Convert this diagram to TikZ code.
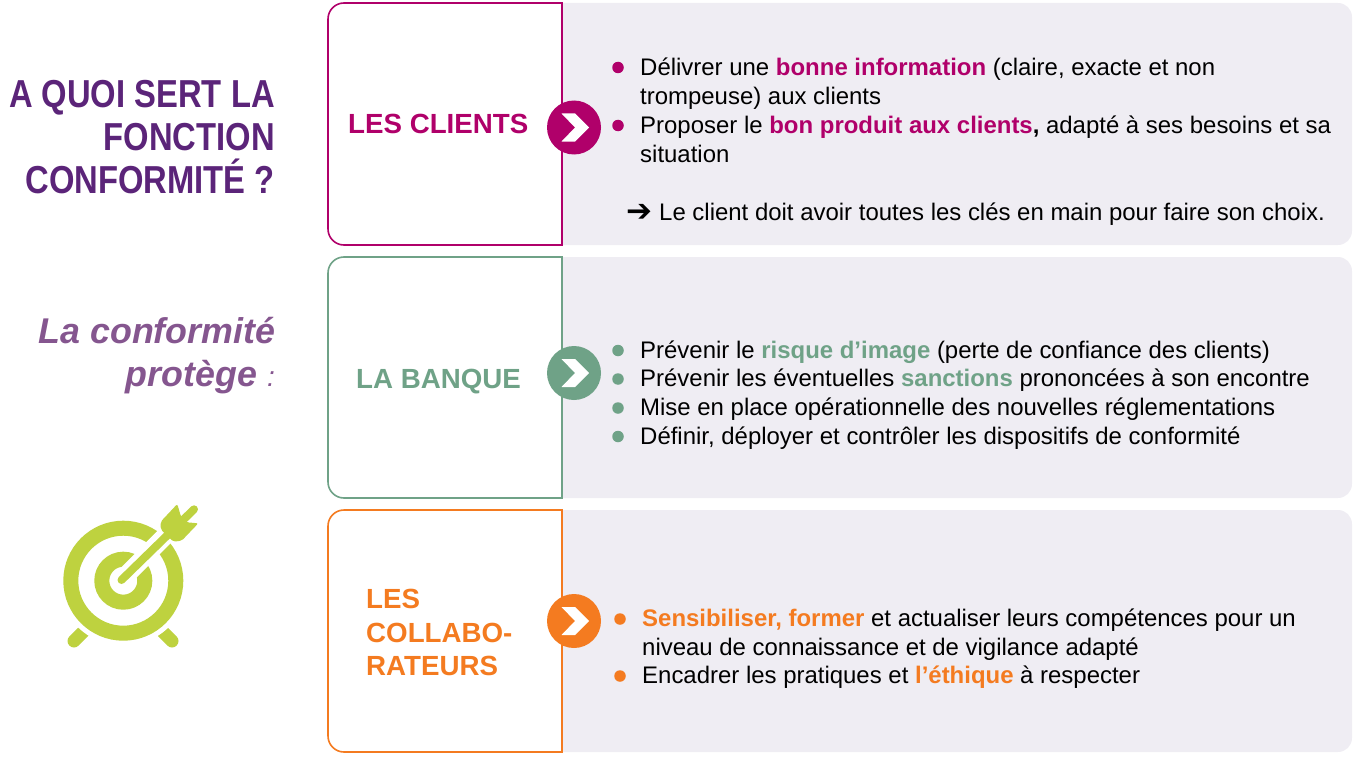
\documentclass[tikz,border=0pt]{standalone}
\usepackage{fontspec}
\setmainfont{Liberation Sans}
\newfontfamily\arrowfont{DejaVu Sans}
\newfontfamily\narrowfont[FakeStretch=0.84]{Liberation Sans}
\usetikzlibrary{positioning}
\definecolor{clientcol}{HTML}{B0006A}
\definecolor{banquecol}{HTML}{6FA287}
\definecolor{collabcol}{HTML}{F47B20}
\definecolor{panelcol}{HTML}{EFEDF3}
\definecolor{titlecol}{HTML}{5B2479}
\definecolor{subcol}{HTML}{85568F}
\definecolor{ciblecol}{HTML}{BED23F}
\tikzset{
  bodytext/.style={anchor=base west,inner sep=0pt,font=\fontsize{23.95}{28}\selectfont},
  titletext/.style={anchor=base east,inner sep=0pt,font=\fontsize{39}{43}\narrowfont\bfseries,text=titlecol},
  subtext/.style={anchor=base east,inner sep=0pt,font=\fontsize{35.8}{43}\selectfont\bfseries\itshape,text=subcol},
  headtext/.style={anchor=base west,inner sep=0pt,font=\fontsize{27.7}{33}\selectfont\bfseries},
  puce/.style={circle,fill=#1,inner sep=0pt,minimum size=11.5pt},
  rond/.style={circle,fill=#1,inner sep=0pt,minimum size=54pt},
  panel/.style={fill=panelcol,draw=none},
  cadre/.style={draw=#1,line width=1.6pt,fill=white},
  chevron/.style={fill=white},
}
\begin{document}
\begin{tikzpicture}[x=1pt,y=-1pt]
\useasboundingbox (0,0) rectangle (1364,757);
% panels
\fill[panel] (540,3) [rounded corners=14pt] -- (1352,3) -- (1352,245) [sharp corners] -- (540,245) -- cycle;
\fill[panel] (540,257) [rounded corners=14pt] -- (1352,257) -- (1352,498) [sharp corners] -- (540,498) -- cycle;
\fill[panel] (540,510) [rounded corners=14pt] -- (1352,510) -- (1352,752) [sharp corners] -- (540,752) -- cycle;
% boxes
\draw[cadre=clientcol] (562,3) [rounded corners=16pt] -- (328,3) -- (328,245) [sharp corners] -- (562,245) -- cycle;
\draw[cadre=banquecol] (562,257) [rounded corners=16pt] -- (328,257) -- (328,498) [sharp corners] -- (562,498) -- cycle;
\draw[cadre=collabcol] (562,510) [rounded corners=16pt] -- (328,510) -- (328,752) [sharp corners] -- (562,752) -- cycle;
% left column
\node[titletext] (titre1) at (275,107) {A QUOI SERT LA};
\node[titletext] (titre2) at (275,150) {FONCTION};
\node[titletext] (titre3) at (275,193) {CONFORMITÉ ?};
\node[subtext] (sous1) at (275.5,343) {La conformité};
\node[subtext] (sous2) at (275,386) {protège {\mdseries\fontsize{28}{30}\selectfont :}};
% target
\draw[ciblecol,line width=13pt,line cap=round] (74,641) -- (95,620);
\draw[ciblecol,line width=13pt,line cap=round] (172,641) -- (151,620);
\fill[white] (123.3,580.7) circle (65);
\draw[ciblecol,line width=15pt] (123.3,580.7) circle (52.5);
\draw[ciblecol,line width=15pt] (123.3,580.7) circle (21.5);
\draw[white,line width=18pt] (121.5,580) -- (170,531);
\fill[ciblecol,rounded corners=2pt] (160.7,521.7) -- (177.3,504) -- (181,516.7) -- (186.7,522.3) -- (198.3,523.3) -- (181.7,540.7) -- (173.3,541.7) -- (160.7,529.3) -- cycle;
\draw[ciblecol,line width=8pt,line cap=round] (121.5,580) -- (194,509.3);
% round markers
\node[rond=clientcol] (rond1) at (574,127.5) {};
\node[rond=banquecol] (rond2) at (574,373) {};
\node[rond=collabcol] (rond3) at (574,621) {};
\fill[chevron] (561.5,113.5) -- (575,113.5) -- (589,127.5) -- (575,141.5) -- (561.5,141.5) -- (575,127.5) -- cycle;
\fill[chevron] (561.5,359) -- (575,359) -- (589,373) -- (575,387) -- (561.5,387) -- (575,373) -- cycle;
\fill[chevron] (561.5,607) -- (575,607) -- (589,621) -- (575,635) -- (561.5,635) -- (575,621) -- cycle;
% headings
\node[headtext,text=clientcol] (clients) at (348,133) {LES CLIENTS};
\node[headtext,text=banquecol] (banque) at (356,388) {LA BANQUE};
\node[headtext,text=collabcol] (collab1) at (366,608) {LES};
\node[headtext,text=collabcol] (collab2) at (366,642) {COLLABO-};
\node[headtext,text=collabcol] (collab3) at (366,675) {RATEURS};
% first row
\node[puce=clientcol] (p11) at (618,67.5) {};
\node[puce=clientcol] (p12) at (618,125.5) {};
\node[bodytext] (t11) at (640,76) {Délivrer une \textcolor{clientcol}{\bfseries bonne information} (claire, exacte et non};
\node[bodytext] (t12) at (640,105) {trompeuse) aux clients};
\node[bodytext] (t13) at (640,133) {Proposer le \textcolor{clientcol}{\bfseries bon produit aux clients}{\bfseries ,} adapté à ses besoins et sa};
\node[bodytext] (t14) at (640,162) {situation};
\node[bodytext] (t15) at (659,220) {Le client doit avoir toutes les clés en main pour faire son choix.};
\node[anchor=base east,inner sep=0pt,font=\fontsize{31}{28}\arrowfont\bfseries] (fleche) at (653,221) {➔};
% second row
\node[puce=banquecol] (p21) at (618,350.5) {};
\node[puce=banquecol] (p22) at (618,379) {};
\node[puce=banquecol] (p23) at (618,408) {};
\node[puce=banquecol] (p24) at (618,436.5) {};
\node[bodytext] (t21) at (640,358) {Prévenir le \textcolor{banquecol}{\bfseries risque d’image} (perte de confiance des clients)};
\node[bodytext] (t22) at (640,386) {Prévenir les éventuelles \textcolor{banquecol}{\bfseries sanctions} prononcées à son encontre};
\node[bodytext] (t23) at (640,415) {Mise en place opérationnelle des nouvelles réglementations};
\node[bodytext] (t24) at (640,444) {Définir, déployer et contrôler les dispositifs de conformité};
% third row
\node[puce=collabcol] (p31) at (620,619) {};
\node[puce=collabcol] (p32) at (620,676) {};
\node[bodytext] (t31) at (642,626) {\textcolor{collabcol}{\bfseries Sensibiliser, former} et actualiser leurs compétences pour un};
\node[bodytext] (t32) at (642,655) {niveau de connaissance et de vigilance adapté};
\node[bodytext] (t33) at (642,683) {Encadrer les pratiques et \textcolor{collabcol}{\bfseries l’éthique} à respecter};
\end{tikzpicture}
\end{document}
